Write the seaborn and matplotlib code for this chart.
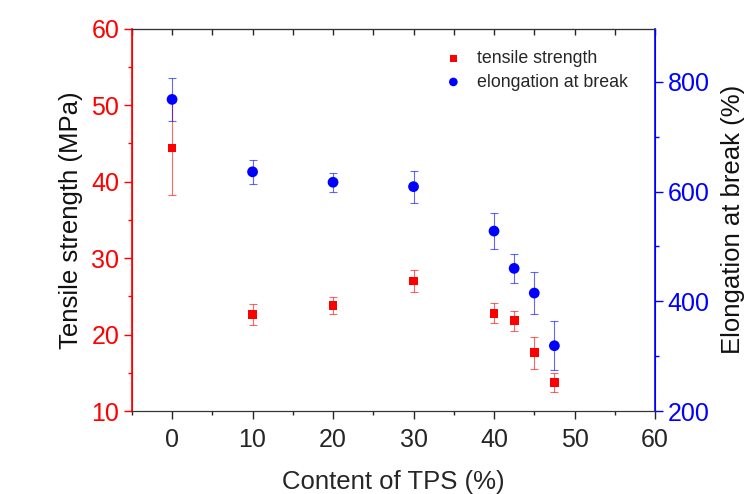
import seaborn as sns
import pandas as pd
import matplotlib.pyplot as plt
from matplotlib.ticker import MultipleLocator

# Values
tps_content = [0, 10, 20, 30, 40, 42.5, 45, 47.5]
tensile_strength = [44.4, 22.6, 23.8, 27.0, 22.8, 21.8, 17.6, 13.7]
tensile_err = [6.2, 1.4, 1.05, 1.5, 1.3, 1.3, 2.1, 1.25]
elongation = [768, 636, 617, 609, 528, 460, 415, 319]
elongation_err = [39, 22, 17, 29, 33, 27, 39, 45]

x_ticks = [0, 10, 20, 30, 40, 50, 60]
left_ticks = [10, 20, 30, 40, 50, 60]
right_ticks = [200, 400, 600, 800]

df = pd.DataFrame({'TPS': tps_content,
                   'TS': tensile_strength, 'TS_err': tensile_err,
                   'EB': elongation, 'EB_err': elongation_err})

sns.set_style('ticks')
plt.rcParams['font.family'] = ['Liberation Sans', 'DejaVu Sans']

fig, ax = plt.subplots(figsize=(7.49, 4.94), dpi=100)
fig.subplots_adjust(left=0.176, right=0.8745, top=0.942, bottom=0.168)
ax2 = ax.twinx()

red = '#ff0000'
blue = '#0000ff'

# Error bars first, then the markers on top
ax.errorbar(df['TPS'], df['TS'], yerr=df['TS_err'], fmt='none',
            ecolor=red, elinewidth=0.8, capsize=3, capthick=0.8, alpha=0.6)
ax2.errorbar(df['TPS'], df['EB'], yerr=df['EB_err'], fmt='none',
             ecolor=blue, elinewidth=0.8, capsize=3, capthick=0.8, alpha=0.6)

sns.scatterplot(x='TPS', y='TS', data=df, ax=ax, marker='s', s=40,
                color=red, edgecolor='none', zorder=3)
sns.scatterplot(x='TPS', y='EB', data=df, ax=ax2, marker='o', s=60,
                color=blue, edgecolor='none', zorder=3)

# Axis limits and ticks
ax.set_xlim(-5, 60)
ax.set_ylim(10, 60)
ax2.set_ylim(200, 897)
ax.set_xticks(x_ticks)
ax.set_yticks(left_ticks)
ax2.set_yticks(right_ticks)
ax.xaxis.set_minor_locator(MultipleLocator(5))
ax.yaxis.set_minor_locator(MultipleLocator(5))
ax2.yaxis.set_minor_locator(MultipleLocator(100))

ax.tick_params(axis='x', which='major', length=6, width=1, labelsize=18, pad=6)
ax.tick_params(axis='x', which='minor', length=3, width=1)
ax.tick_params(axis='y', which='major', length=6, width=1, colors=red, labelsize=18, pad=3)
ax.tick_params(axis='y', which='minor', length=3, width=1, colors=red)
ax2.tick_params(axis='y', which='major', length=6, width=1, colors=blue, labelsize=18, pad=3)
ax2.tick_params(axis='y', which='minor', length=3, width=1, colors=blue)

# Top axis: inward ticks, no labels
top = ax.secondary_xaxis('top')
top.set_xticks([-5, 0, 5, 10, 15, 20, 25, 30, 35, 40, 45, 50, 55, 60])
top.tick_params(direction='in', length=4, width=1, labeltop=False)
top.set_xticklabels([])

# Spines
for a in (ax, ax2):
    a.spines['left'].set_color(red)
    a.spines['right'].set_color(blue)
    a.spines['top'].set_color('#333333')
    a.spines['bottom'].set_color('#333333')
ax.spines['left'].set_linewidth(1.2)
ax2.spines['right'].set_linewidth(1.2)
top.spines['top'].set_color('#333333')

# Labels
ax.set_xlabel('Content of TPS (%)', fontsize=18.5, labelpad=13)
ax.set_ylabel('Tensile strength (MPa)', fontsize=18.5, color='#111111', labelpad=6)
ax2.set_ylabel('Elongation at break (%)', fontsize=18.5, color='#111111', labelpad=8)

# Legend
h1 = ax.collections[-1]
h2 = ax2.collections[-1]
ax2.legend([h1, h2], ['tensile strength', 'elongation at break'],
           loc='upper left', bbox_to_anchor=(0.55, 0.985), frameon=False,
           fontsize=12.8, handletextpad=0.35, labelspacing=0.35, markerscale=0.8)

plt.savefig('out.png', dpi=100)
